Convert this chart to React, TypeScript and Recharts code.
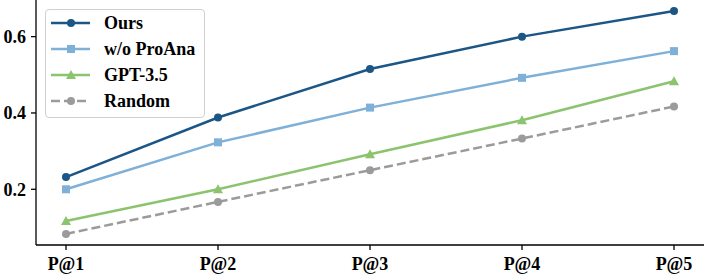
import React from "react";
import { LineChart, Line, XAxis, YAxis, Legend } from "recharts";

const categories = ["P@1", "P@2", "P@3", "P@4", "P@5"];
const ours = [0.232, 0.388, 0.515, 0.6, 0.667];
const woProAna = [0.2, 0.323, 0.414, 0.492, 0.562];
const gpt35 = [0.117, 0.2, 0.292, 0.381, 0.483];
const random = [0.083, 0.167, 0.25, 0.333, 0.417];
const yTicks = [0.2, 0.4, 0.6];

const C_OURS = "#1b5686";
const C_WO = "#7eb0d8";
const C_GPT = "#8cc36e";
const C_RAND = "#9b9b9b";
const FONT = "'Liberation Serif', 'Times New Roman', serif";

const data = categories.map((c, i) => ({
  cat: c,
  ours: ours[i],
  wo: woProAna[i],
  gpt: gpt35[i],
  rand: random[i],
}));

const Square = (props: any) => {
  const { cx, cy, fill } = props;
  if (cx == null || cy == null) return null;
  return <rect x={cx - 4} y={cy - 4} width={8} height={8} fill={fill} />;
};
const Triangle = (props: any) => {
  const { cx, cy, fill } = props;
  if (cx == null || cy == null) return null;
  const s = 5;
  return <polygon points={`${cx},${cy - s} ${cx - s},${cy + s * 0.8} ${cx + s},${cy + s * 0.8}`} fill={fill} />;
};
const Circle = (props: any) => {
  const { cx, cy, fill } = props;
  if (cx == null || cy == null) return null;
  return <circle cx={cx} cy={cy} r={4} fill={fill} />;
};

const legendItems = [
  { label: "Ours", color: C_OURS, marker: "circle", dash: undefined },
  { label: "w/o ProAna", color: C_WO, marker: "square", dash: undefined },
  { label: "GPT-3.5", color: C_GPT, marker: "triangle", dash: undefined },
  { label: "Random", color: C_RAND, marker: "circle", dash: "9 4" },
];

const renderLegend = () => (
  <div
    style={{
      width: 160,
      height: 109,
      border: "1.3px solid #d0d0d0",
      borderRadius: 4,
      background: "rgba(255,255,255,0.85)",
      boxSizing: "border-box",
      lineHeight: 0,
    }}
  >
    <svg width={158} height={107} style={{ display: "block" }}>
      {legendItems.map((it, i) => {
        const y = 13 + i * 26;
        const cx = 25;
        return (
          <g key={it.label}>
            <line x1={5} x2={44} y1={y} y2={y} stroke={it.color} strokeWidth={2.5} strokeDasharray={it.dash} />
            {it.marker === "circle" && <Circle cx={cx} cy={y} fill={it.color} />}
            {it.marker === "square" && <Square cx={cx} cy={y} fill={it.color} />}
            {it.marker === "triangle" && <Triangle cx={cx} cy={y} fill={it.color} />}
            <text x={58} y={y} dy="0.35em" fontFamily={FONT} fontWeight="bold" fontSize={18} fill="#000">
              {it.label}
            </text>
          </g>
        );
      })}
    </svg>
  </div>
);

export default function App() {
  return (
    <div style={{ position: "absolute", left: 0, top: 0, width: 706, height: 277, background: "#fff" }}>
      <LineChart width={706} height={277} data={data} margin={{ top: 0, right: 2, bottom: 0, left: 0 }}>
        <XAxis
          dataKey="cat"
          height={32}
          padding={{ left: 30, right: 30 }}
          tick={{ fontFamily: FONT, fontWeight: "bold", fontSize: 18, fill: "#000" }}
          tickSize={5}
          tickMargin={7}
          axisLine={{ stroke: "#000", strokeWidth: 1.3 }}
          tickLine={{ stroke: "#000", strokeWidth: 1.3 }}
          interval={0}
        />
        <YAxis
          width={36}
          type="number"
          domain={[0.054, 0.696]}
          ticks={yTicks}
          tickFormatter={(v: number) => v.toFixed(1)}
          tick={{ fontFamily: FONT, fontWeight: "bold", fontSize: 18, fill: "#000" }}
          tickSize={5}
          tickMargin={5}
          axisLine={{ stroke: "#000", strokeWidth: 1.3 }}
          tickLine={{ stroke: "#000", strokeWidth: 1.3 }}
          allowDataOverflow
        />
        <Legend
          content={renderLegend}
          layout="horizontal"
          verticalAlign="middle"
          align="center"
          wrapperStyle={{ position: "absolute", top: 9, left: 45, width: 160, height: 109 }}
        />
        <Line dataKey="rand" stroke={C_RAND} strokeWidth={2.5} strokeDasharray="9 4" dot={<Circle fill={C_RAND} />} isAnimationActive={false} />
        <Line dataKey="gpt" stroke={C_GPT} strokeWidth={2.5} dot={<Triangle fill={C_GPT} />} isAnimationActive={false} />
        <Line dataKey="wo" stroke={C_WO} strokeWidth={2.5} dot={<Square fill={C_WO} />} isAnimationActive={false} />
        <Line dataKey="ours" stroke={C_OURS} strokeWidth={2.5} dot={<Circle fill={C_OURS} />} isAnimationActive={false} />
      </LineChart>
    </div>
  );
}
